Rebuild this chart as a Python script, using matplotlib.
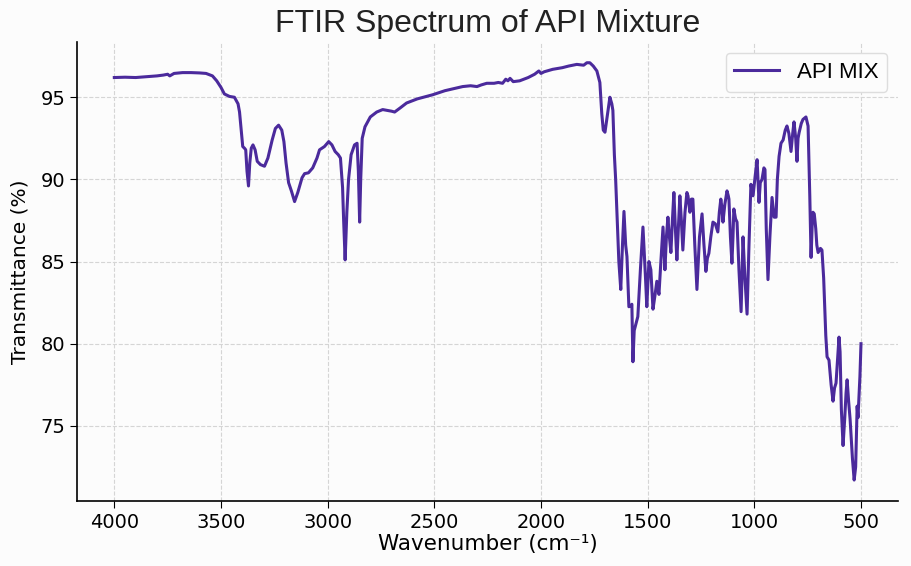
import matplotlib
matplotlib.use("Agg")
import matplotlib.pyplot as plt

wavenumber = [
    4000, 3950, 3900, 3850, 3800, 3770, 3750, 3740, 3720, 3680, 3640, 3600, 3570, 3540, 3520, 3500,
    3484, 3460, 3437, 3420, 3413, 3405, 3398, 3390, 3384, 3378, 3371, 3365, 3358, 3350, 3340, 3330,
    3315, 3296, 3280, 3260, 3245, 3230, 3215, 3205, 3195, 3183, 3170, 3155, 3140, 3120, 3108, 3090,
    3070, 3050, 3038, 3015, 2995, 2980, 2965, 2950, 2940, 2930, 2925, 2918, 2910, 2902, 2890, 2874,
    2862, 2856, 2850, 2845, 2838, 2825, 2800, 2770, 2742, 2720, 2700, 2686, 2660, 2630, 2580, 2508,
    2450, 2400, 2367, 2330, 2300, 2280, 2254, 2220, 2200, 2180, 2165, 2155, 2145, 2130, 2100, 2060,
    2030, 2010, 2000, 1985, 1945, 1900, 1870, 1832, 1800, 1785, 1771, 1755, 1738, 1724, 1715, 1708,
    1700, 1690, 1677, 1668, 1663, 1656, 1650, 1644, 1635, 1626, 1618, 1611, 1603, 1597, 1588, 1578,
    1574, 1569, 1563, 1555, 1546, 1534, 1522, 1510, 1504, 1494, 1485, 1475, 1465, 1457, 1447, 1438,
    1428, 1419, 1412, 1405, 1398, 1391, 1384, 1377, 1370, 1363, 1356, 1349, 1342, 1335, 1325, 1316,
    1311, 1302, 1295, 1288, 1279, 1269, 1257, 1245, 1236, 1227, 1220, 1213, 1204, 1194, 1183, 1171,
    1164, 1157, 1152, 1147, 1138, 1128, 1122, 1119, 1112, 1105, 1100, 1096, 1088, 1081, 1072, 1062,
    1058, 1053, 1044, 1034, 1025, 1016, 1006, 996, 987, 978, 972, 964, 955, 950, 944, 936,
    927, 917, 907, 898, 892, 884, 875, 865, 855, 847, 838, 828, 820, 814, 806, 800,
    795, 790, 780, 772, 758, 748, 740, 734, 728, 725, 719, 712, 707, 701, 690, 683,
    675, 665, 659, 650, 640, 631, 624, 617, 610, 603, 598, 592, 584, 576, 570, 565,
    558, 551, 540, 532, 525, 518, 514, 505, 500,
]

transmittance = [
    96.2, 96.22, 96.2, 96.25, 96.3, 96.35, 96.4, 96.3, 96.45, 96.5, 96.5, 96.48, 96.45, 96.3, 96.0, 95.6,
    95.2, 95.05, 95.0, 94.6, 94.1, 93.0, 92.0, 91.9, 91.8, 90.5, 89.6, 91.0, 91.9, 92.1, 91.8, 91.1,
    90.9, 90.8, 91.3, 92.4, 93.1, 93.3, 93.0, 92.3, 91.0, 89.8, 89.3, 88.65, 89.2, 90.1, 90.35, 90.4,
    90.7, 91.3, 91.8, 92.0, 92.3, 92.1, 91.7, 91.5, 91.3, 89.5, 87.5, 85.1, 88.0, 90.0, 91.5, 92.1,
    92.2, 90.5, 87.4, 90.0, 92.5, 93.2, 93.8, 94.1, 94.25, 94.2, 94.15, 94.1, 94.35, 94.65, 94.9, 95.15,
    95.4, 95.55, 95.65, 95.7, 95.65, 95.75, 95.85, 95.85, 95.9, 95.85, 96.1, 96.0, 96.15, 95.95, 96.0, 96.2,
    96.4, 96.6, 96.45, 96.55, 96.7, 96.8, 96.9, 97.0, 96.95, 97.1, 97.1, 96.9, 96.6, 95.9, 94.0, 93.0,
    92.87, 93.8, 95.0, 94.6, 94.2, 91.5, 90.0, 88.0, 85.0, 83.3, 86.0, 88.05, 86.0, 85.3, 82.25, 82.3,
    82.4, 78.9, 80.8, 81.2, 81.65, 84.5, 87.1, 84.0, 82.25, 85.0, 84.5, 82.1, 83.0, 83.8, 83.0, 85.0,
    87.1, 84.5, 86.5, 87.7, 86.5, 85.55, 87.5, 89.2, 87.0, 85.1, 87.0, 89.0, 87.5, 85.7, 88.0, 89.2,
    89.0, 88.0, 88.8, 88.8, 86.0, 83.3, 86.5, 87.9, 86.0, 84.4, 85.2, 85.5, 86.5, 87.4, 87.3, 86.8,
    88.0, 88.8, 88.3, 87.4, 88.5, 89.3, 89.0, 88.8, 86.5, 84.9, 86.5, 88.2, 87.6, 87.4, 84.5, 81.95,
    84.0, 86.5, 84.0, 81.8, 86.0, 89.7, 89.0, 90.2, 91.2, 88.6, 89.8, 90.0, 90.7, 90.6, 87.0, 83.9,
    86.5, 88.9, 87.7, 87.7, 90.0, 91.4, 92.2, 92.4, 93.0, 93.25, 92.8, 91.7, 92.8, 93.5, 92.5, 91.1,
    92.5, 92.85, 93.4, 93.65, 93.8, 93.25, 89.0, 85.25, 87.5, 88.0, 87.9, 87.0, 86.0, 85.55, 85.8, 85.7,
    84.0, 80.5, 79.2, 79.0, 77.5, 76.5, 77.3, 77.6, 79.0, 80.4, 79.5, 76.0, 73.8, 75.5, 77.0, 77.8,
    76.5, 75.4, 73.0, 71.7, 72.5, 76.2, 75.5, 78.0, 80.0,
]

series_label = "API MIX"
title = "FTIR Spectrum of API Mixture"
xlabel = "Wavenumber (cm⁻¹)"
ylabel = "Transmittance (%)"
xticks = [4000, 3500, 3000, 2500, 2000, 1500, 1000, 500]
yticks = [75, 80, 85, 90, 95]

plt.rcParams['font.family'] = ['DejaVu Sans']
fig = plt.figure(figsize=(9.12, 5.66), dpi=100, facecolor='#fcfcfc')
ax = fig.add_axes([0.0844, 0.115, 0.9006, 0.811])
ax.set_facecolor('#fcfcfc')

ax.plot(wavenumber, transmittance, color='#4b2a9c', lw=2.2, label=series_label)
ax.invert_xaxis()
ax.set_xticks(xticks)
ax.set_yticks(yticks)
ax.grid(True, linestyle='--', color='#d5d5d5', linewidth=0.8)
ax.set_axisbelow(True)
for s in ['top', 'right']:
    ax.spines[s].set_visible(False)
ax.spines['left'].set_linewidth(1.2)
ax.spines['bottom'].set_linewidth(1.2)
ax.tick_params(labelsize=14, length=5)
ax.set_title(title, fontsize=23, pad=7, family=['Liberation Sans', 'DejaVu Sans'], color='#222222')
ax.set_xlabel(xlabel, fontsize=15.5, labelpad=2)
ax.set_ylabel(ylabel, fontsize=14.5, labelpad=8)
ax.legend(loc='upper right', frameon=True, framealpha=1, edgecolor='#dddddd', facecolor='#fcfcfc',
          prop={'family': ['Liberation Sans', 'DejaVu Sans'], 'size': 16})

fig.savefig('out.png', dpi=100, facecolor=fig.get_facecolor())
